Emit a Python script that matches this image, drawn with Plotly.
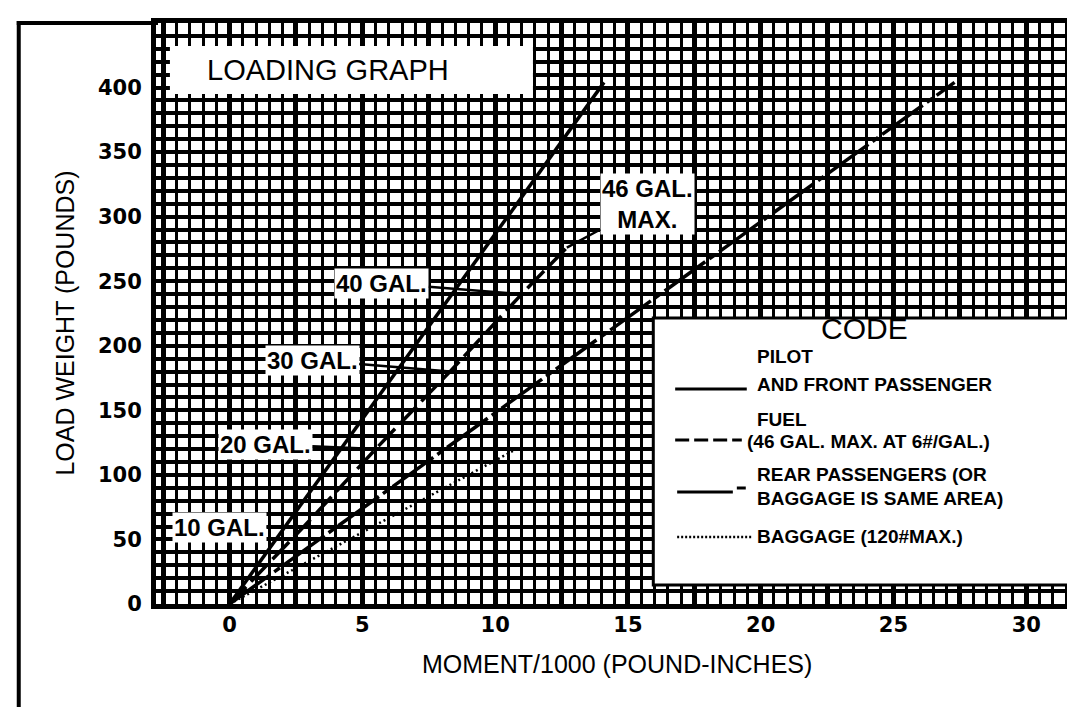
import plotly.graph_objects as go

# ---------------- data ----------------
pilot_weight = [0, 404]
pilot_moment = [0, 14.1]

fuel_weight = [0, 60, 120, 180, 240, 276]
fuel_moment = [0, 2.8, 5.5, 8.3, 11.0, 12.7]
fuel_labels = ["10 GAL.", "20 GAL.", "30 GAL.", "40 GAL.", "46 GAL.<br>MAX."]

rear_weight = [0, 404]
rear_moment = [0, 27.3]

baggage_weight = [0, 120]
baggage_moment = [0, 10.8]

x_tick_labels = ["0", "5", "10", "15", "20", "25", "30"]
y_tick_labels = ["0", "50", "100", "150", "200", "250", "300", "350", "400"]

legend_rows = [
    ("PILOT", "AND FRONT PASSENGER"),
    ("FUEL", "(46 GAL. MAX. AT 6#/GAL.)"),
    ("REAR PASSENGERS (OR", "BAGGAGE IS SAME AREA)"),
    ("BAGGAGE (120#MAX.)", None),
]

# ---------------- geometry ----------------
W, H = 1075, 707
ML, MR, MT, MB = 148, 5, 15, 111
PW, PH = W - ML - MR, H - MT - MB
X_RANGE = [-2.77, 31.76]
Y_RANGE = [0, 450]


def dx(px):
    return X_RANGE[0] + (px - ML) / PW * (X_RANGE[1] - X_RANGE[0])


def dy(py):
    return Y_RANGE[1] - (py - MT) / PH * (Y_RANGE[1] - Y_RANGE[0])


def px_(px):
    return (px - ML) / PW


def py_(py):
    return 1 - (py - MT) / PH


TICK_FONT = dict(family="DejaVu Sans", size=21, color="black", weight="bold")
LAB_FONT = dict(family="Liberation Sans, Arial", size=24, color="black", weight="bold")
LEG_FONT = dict(family="Liberation Sans, Arial", size=19, color="black", weight="bold")
REG = "Liberation Sans, Arial"

fig = go.Figure()

fig.add_trace(go.Scatter(x=baggage_moment, y=baggage_weight, mode="lines",
                         line=dict(color="black", width=2.5, dash="2px,3px"),
                         showlegend=False, hoverinfo="skip"))
fig.add_trace(go.Scatter(x=rear_moment, y=rear_weight, mode="lines",
                         line=dict(color="black", width=3.5, dash="50px,5px,7px,5px"),
                         showlegend=False, hoverinfo="skip"))
fig.add_trace(go.Scatter(x=fuel_moment, y=fuel_weight, mode="lines",
                         line=dict(color="black", width=3.5, dash="24px,7px"),
                         showlegend=False, hoverinfo="skip"))
fig.add_trace(go.Scatter(x=pilot_moment, y=pilot_weight, mode="lines",
                         line=dict(color="black", width=3.5),
                         showlegend=False, hoverinfo="skip"))

# axis ticks / grid
x_grid_vals = [-2.5 + 2.5 * i for i in range(14)]
x_grid_text = []
for v in x_grid_vals:
    s = str(int(v)) if v == int(v) else ""
    x_grid_text.append(s if s in x_tick_labels else "")
y_grid_vals = [50 * i for i in range(10)]
y_grid_text = [str(v) if str(v) in y_tick_labels else "" for v in y_grid_vals]

fig.update_xaxes(range=X_RANGE, tickmode="array", tickvals=x_grid_vals, ticktext=x_grid_text,
                 showgrid=True, gridcolor="black", gridwidth=4.5, zeroline=False,
                 showline=True, linecolor="black", linewidth=5, mirror=True,
                 ticks="", tickfont=TICK_FONT, ticklabelstandoff=-2,
                 minor=dict(tickmode="linear", tick0=0, dtick=0.5, showgrid=True,
                            gridcolor="black", gridwidth=3, ticks=""))
fig.update_yaxes(range=Y_RANGE, tickmode="array", tickvals=y_grid_vals, ticktext=y_grid_text,
                 showgrid=True, gridcolor="black", gridwidth=4, zeroline=False,
                 showline=True, linecolor="black", linewidth=5, mirror=True,
                 ticks="", tickfont=TICK_FONT, ticklabelstandoff=5,
                 minor=dict(tickmode="linear", tick0=0, dtick=10, showgrid=True,
                            gridcolor="black", gridwidth=3.6, ticks=""))

shapes = []
annotations = []

# LOADING GRAPH box
shapes.append(dict(type="rect", xref="x", yref="y", x0=dx(162), x1=dx(527), y0=dy(86), y1=dy(38),
                   fillcolor="white", line=dict(width=0), layer="above"))
annotations.append(dict(xref="x", yref="y", x=dx(197), y=dy(62), text="LOADING GRAPH",
                        showarrow=False, xanchor="left", yanchor="middle",
                        font=dict(family=REG, size=29, color="black")))

# fuel gallon labels with leaders to the fuel line
label_px = [(212, 519), (258, 436), (305, 352), (375, 275), (642, 196)]
for i, (lx, ly) in enumerate(label_px):
    annotations.append(dict(xref="x", yref="y", x=fuel_moment[i + 1], y=fuel_weight[i + 1],
                            axref="x", ayref="y", ax=dx(lx), ay=dy(ly),
                            text=fuel_labels[i], showarrow=True, arrowhead=0, arrowwidth=2.5,
                            arrowcolor="black", standoff=0, bgcolor="white", borderpad=1,
                            font=LAB_FONT, align="center"))

# CODE legend box
shapes.append(dict(type="rect", xref="x", yref="y", x0=dx(648), x1=dx(1070), y0=dy(577), y1=dy(310),
                   fillcolor="white", line=dict(color="black", width=3), layer="above"))
annotations.append(dict(xref="x", yref="y", x=dx(860), y=dy(320), text="CODE", showarrow=False,
                        font=dict(family=REG, size=30, color="black")))
row_y = [(348, 376), (411, 433), (466, 490), (528, None)]
row_x = [750, 740, 750, 750]
for (t1, t2), (y1, y2), xl in zip(legend_rows, row_y, row_x):
    annotations.append(dict(xref="x", yref="y", x=dx(750), y=dy(y1), text=t1, showarrow=False,
                            xanchor="left", yanchor="middle", font=LEG_FONT))
    if t2:
        annotations.append(dict(xref="x", yref="y", x=dx(xl), y=dy(y2), text=t2, showarrow=False,
                                xanchor="left", yanchor="middle", font=LEG_FONT))
# legend samples
samples = [
    (670, 742, 381, "solid", 3),
    (670, 737, 432, "14px,5px", 3),
    (672, 728, 484, "solid", 3),
    (732, 741, 480, "solid", 3),
    (672, 747, 529, "2px,2px", 2.5),
]
for x0, x1, yy, dash, wdt in samples:
    shapes.append(dict(type="line", xref="x", yref="y", x0=dx(x0), x1=dx(x1), y0=dy(yy), y1=dy(yy),
                       line=dict(color="black", width=wdt, dash=dash), layer="above"))

# axis titles
annotations.append(dict(xref="paper", yref="paper", x=px_(612), y=py_(672),
                        text="MOMENT/1000 (POUND-INCHES)", showarrow=False,
                        font=dict(family=REG, size=25, color="black")))
annotations.append(dict(xref="paper", yref="paper", x=px_(40), y=py_(315),
                        text="LOAD WEIGHT (POUNDS)", showarrow=False, textangle=-90,
                        font=dict(family=REG, size=25, color="black")))

# outer frame of the scanned page
shapes.append(dict(type="line", xref="paper", yref="paper", x0=px_(10), x1=px_(10), y0=py_(13), y1=py_(707),
                   line=dict(color="black", width=4)))
shapes.append(dict(type="line", xref="paper", yref="paper", x0=px_(8), x1=px_(150), y0=py_(15), y1=py_(15),
                   line=dict(color="black", width=4)))
shapes.append(dict(type="line", xref="paper", yref="paper", x0=px_(530), x1=px_(1075), y0=py_(703), y1=py_(703),
                   line=dict(color="#999999", width=2)))

fig.update_layout(width=W, height=H, margin=dict(l=ML, r=MR, t=MT, b=MB, pad=0),
                  paper_bgcolor="white", plot_bgcolor="white",
                  shapes=shapes, annotations=annotations, showlegend=False)

fig.write_html("out.html")
